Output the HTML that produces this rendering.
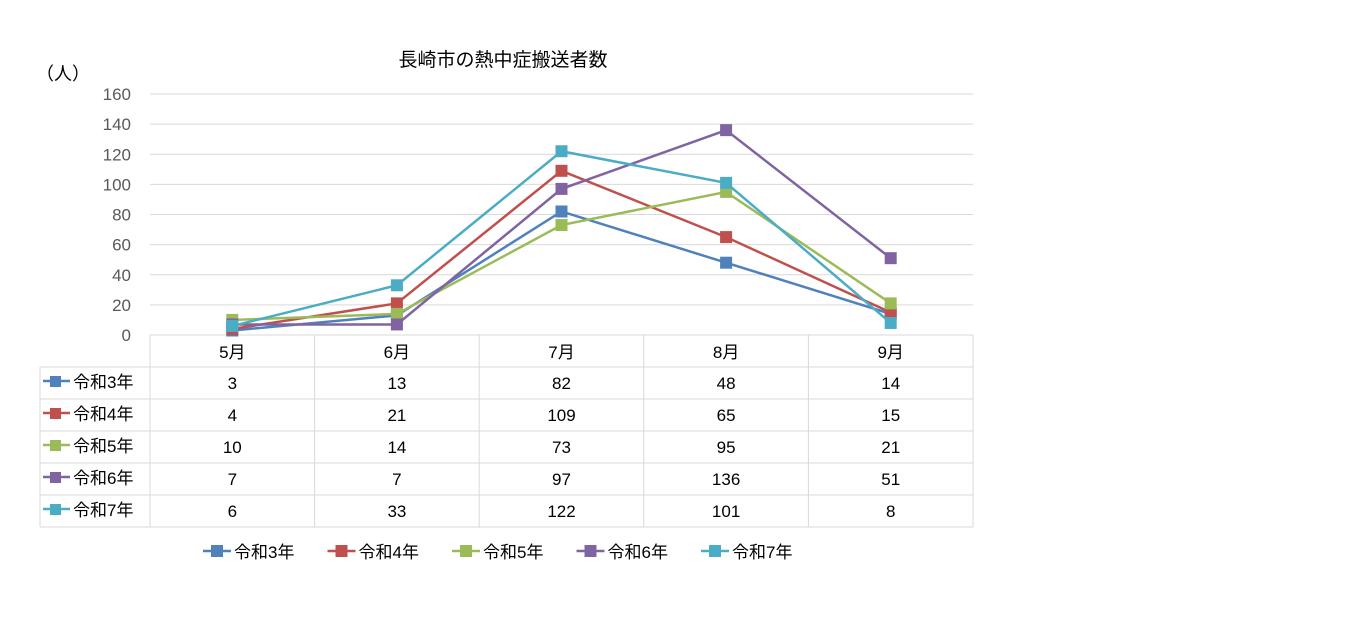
<!DOCTYPE html>
<html><head><meta charset="utf-8">
<style>
body{margin:0;background:#fff;}
svg text{font-family:"Liberation Sans","Noto Sans CJK JP",sans-serif;}
</style></head>
<body>
<svg id="c" width="1350" height="624" xmlns="http://www.w3.org/2000/svg">
<rect width="1350" height="624" fill="#fff"/>
<text x="503" y="66" font-size="19" text-anchor="middle" fill="#000">長崎市の熱中症搬送者数</text>
<text x="36" y="80" font-size="18" fill="#000">（人）</text>
<g id="grid"></g><g id="table"></g><g id="series"></g><g id="legend"></g>
</svg>
<script>
const categories=["5月","6月","7月","8月","9月"];
const seriesNames=["令和3年","令和4年","令和5年","令和6年","令和7年"];
const r3=[3,13,82,48,14];
const r4=[4,21,109,65,15];
const r5=[10,14,73,95,21];
const r6=[7,7,97,136,51];
const r7=[6,33,122,101,8];
const yTicks=[0,20,40,60,80,100,120,140,160];
const seriesData=[r3,r4,r5,r6,r7];
const colors=["#4F81BD","#C0504D","#9BBB59","#8064A2","#4BACC6"];
const NS="http://www.w3.org/2000/svg";
const X0=150,X1=973,Y0=335,Y1=94,YMAX=160;
const colW=(X1-X0)/categories.length;
const xS=i=>X0+colW*(i+0.5);
const yS=v=>Y0-(v/YMAX)*(Y0-Y1);
function mk(tag,attrs,parent){const e=document.createElementNS(NS,tag);for(const k in attrs)e.setAttribute(k,attrs[k]);parent.appendChild(e);return e;}
const grid=document.getElementById('grid');
yTicks.forEach(t=>{
  const l=mk('line',{x1:X0,x2:X1,y1:yS(t),y2:yS(t),stroke:t===0?'#bfbfbf':'#d9d9d9','stroke-width':1},grid);
  
  
  const tx=mk('text',{x:131,y:yS(t)+6,'font-size':17,'text-anchor':'end',fill:'#595959'},grid);
  tx.textContent=t;
  
  
});
// table
const tb=document.getElementById('table');
const RH=32,TL=40;
const rowsY=k=>Y0+RH*(k+1);
for(let k=0;k<=seriesNames.length+1;k++){
  const y=Y0+RH*k;
  const l=mk('line',{x1:k===0?X0:TL,x2:X1,y1:y,y2:y,stroke:'#d9d9d9'},tb);
  
  
}
for(let i=0;i<=categories.length;i++){
  const x=X0+colW*i;
  const l=mk('line',{x1:x,x2:x,y1:Y0,y2:Y0+RH*6,stroke:'#d9d9d9'},tb);
  
  
}
const lv=mk('line',{x1:TL,x2:TL,y1:Y0+RH,y2:Y0+RH*6,stroke:'#d9d9d9'},tb);


categories.forEach((c,i)=>{
  const t=mk('text',{x:xS(i),y:Y0+23,'font-size':17,'text-anchor':'middle',fill:'#000'},tb);
  t.textContent=c;
  
  
});
seriesData.forEach((arr,s)=>{
  const y=rowsY(s);
  const m=mk('line',{x1:43,x2:70,y1:y+14,y2:y+14,stroke:colors[s],'stroke-width':2.5},tb);
  
  
  const r=mk('rect',{x:50,y:y+9,width:11,height:11,fill:colors[s]},tb);
  
  
  const n=mk('text',{x:73,y:y+21,'font-size':17,fill:'#000'},tb);
  n.textContent=seriesNames[s];
  
  
  arr.forEach((v,i)=>{
    const t=mk('text',{x:xS(i),y:y+22,'font-size':17,'text-anchor':'middle',fill:'#000'},tb);
    t.textContent=v;
    
    
  });
});
// series
const sg=document.getElementById('series');
seriesData.forEach((arr,s)=>{
  const pl=mk('polyline',{points:arr.map((v,i)=>xS(i)+','+yS(v)).join(' '),fill:'none',stroke:colors[s],'stroke-width':2.5},sg);
  
  
  arr.forEach((v,i)=>{
    const r=mk('rect',{x:xS(i)-6,y:yS(v)-6,width:12,height:12,fill:colors[s]},sg);
    
    
  });
});
// legend
const lg=document.getElementById('legend');
seriesNames.forEach((n,s)=>{
  const x=203+s*124.5, y=551;
  const l=mk('line',{x1:x,x2:x+28,y1:y,y2:y,stroke:colors[s],'stroke-width':2.5},lg);
  
  
  const r=mk('rect',{x:x+8,y:y-6,width:12,height:12,fill:colors[s]},lg);
  
  
  const t=mk('text',{x:x+31,y:y+7,'font-size':17,fill:'#000'},lg);
  t.textContent=n;
  
  
});
</script>
</body></html>
